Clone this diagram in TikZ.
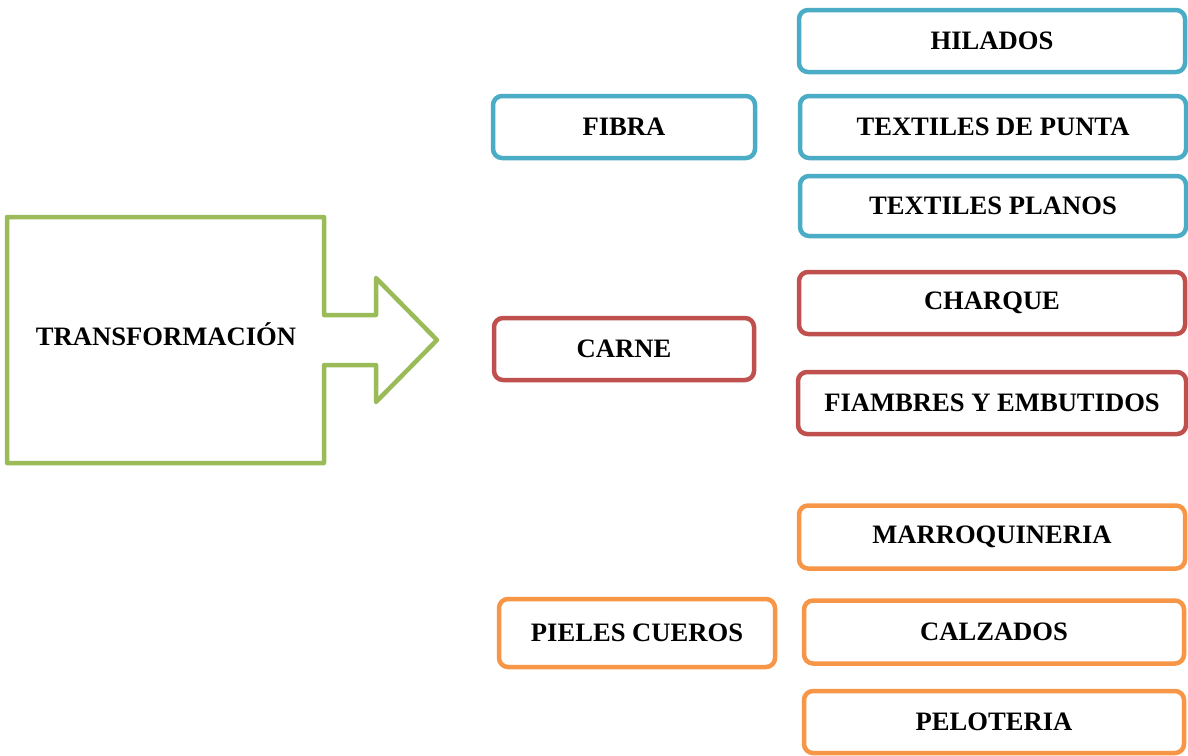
\documentclass[tikz,border=0pt]{standalone}
\usepackage{fontspec}
\setmainfont{Liberation Serif}
\definecolor{cblue}{HTML}{4BACC6}
\definecolor{cred}{HTML}{C0504D}
\definecolor{corange}{HTML}{F79646}
\definecolor{cgreen}{HTML}{9BBB59}
\begin{document}
\begin{tikzpicture}[x=1pt,y=-1pt,
  lbl/.style={font=\bfseries\fontsize{26.6}{30}\selectfont, text=black},
  box/.style={lbl, draw, fill=white, rounded corners=9pt, line width=4.5pt, inner sep=0pt, minimum height=62pt},
  bbox/.style={box, draw=cblue},
  rbox/.style={box, draw=cred},
  obox/.style={box, draw=corange}]
\useasboundingbox (0,0) rectangle (1188,755);
% big arrow
\draw[cgreen, line width=4.5pt, line join=round]
  (7,217) -- (324,217) -- (324,315) -- (376,315) -- (376,278) -- (437,340)
  -- (376,402) -- (376,365) -- (324,365) -- (324,463) -- (7,463) -- cycle;
\node[lbl] (transf) at (166,334) {TRANSFORMACIÓN};
% fibra group
\node[bbox, minimum width=262pt] (fibra) at (624,127) {FIBRA};
\node[bbox, minimum width=386pt] (hilados) at (992,41) {HILADOS};
\node[bbox, minimum width=386pt] (punta) at (993,127) {TEXTILES DE PUNTA};
\node[bbox, minimum width=386pt, minimum height=60pt] (planos) at (993,206) {TEXTILES PLANOS};
% carne group
\node[rbox, minimum width=260pt] (carne) at (624,349) {CARNE};
\node[rbox, minimum width=386pt] (charque) at (992,303) {CHARQUE};
\node[rbox, minimum width=388pt] (fiambres) at (992,403) {FIAMBRES Y EMBUTIDOS};
% pieles group
\node[obox, minimum width=276pt, minimum height=68pt] (pieles) at (637,633) {PIELES CUEROS};
\node[obox, minimum width=386pt, minimum height=63pt] (marro) at (992,537) {MARROQUINERIA};
\node[obox, minimum width=380pt, minimum height=63pt] (calzados) at (994,632) {CALZADOS};
\node[obox, minimum width=380pt] (peloteria) at (994,722) {PELOTERIA};
\end{tikzpicture}
\end{document}
